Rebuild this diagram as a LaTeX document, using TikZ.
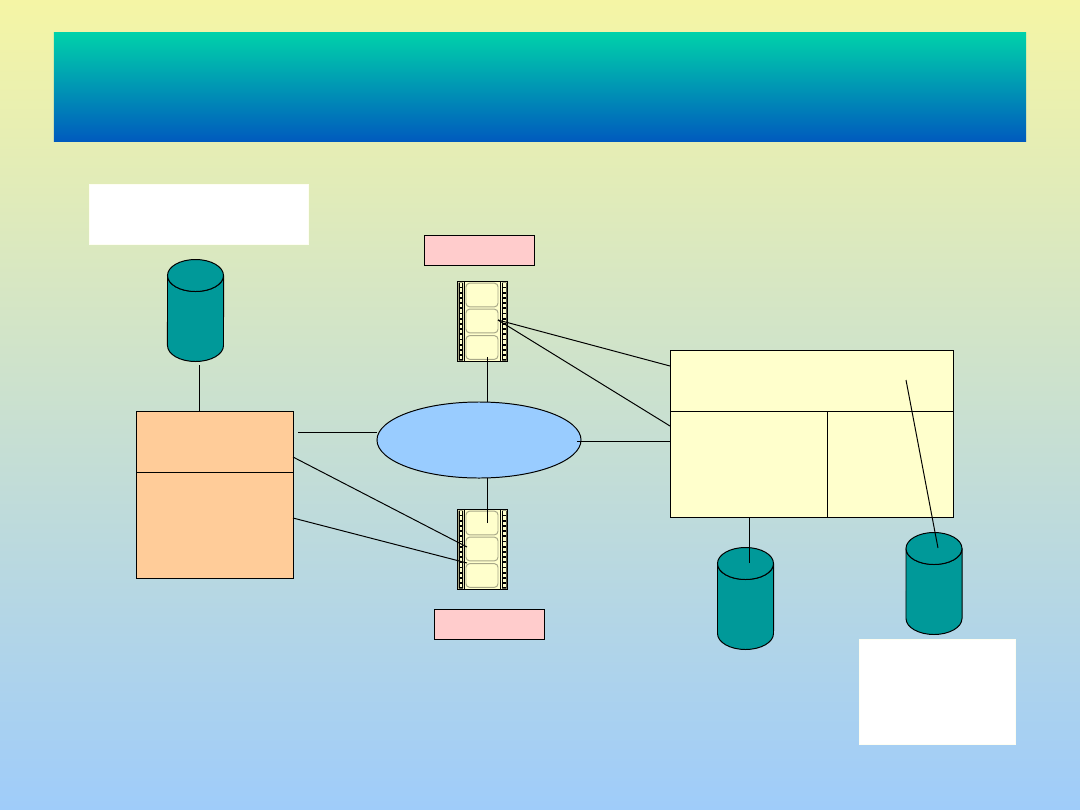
\documentclass[tikz,border=0pt]{standalone}
\usepackage{xcolor}
\usetikzlibrary{shapes.geometric}
\definecolor{bgtop}{HTML}{F5F5A5}
\definecolor{bgbottom}{HTML}{9FCCFA}
\definecolor{titletop}{HTML}{00D2AA}
\definecolor{titlebottom}{HTML}{005ABE}
\definecolor{drumteal}{HTML}{009999}
\definecolor{labelpink}{HTML}{FFCCCC}
\definecolor{panelorange}{HTML}{FFCC99}
\definecolor{panelyellow}{HTML}{FFFFCC}
\definecolor{netblue}{HTML}{99CCFF}
\definecolor{framegrey}{HTML}{A8A888}
\tikzset{
  panel/.style={draw=black,line width=0.7pt,inner sep=0pt,outer sep=0pt},
  blank/.style={draw=white!85!bgtop,fill=white,line width=0.7pt,inner sep=0pt,outer sep=0pt},
  wire/.style={line width=0.7pt},
  drum/.pic={
    \draw[wire,fill=drumteal] (-28,-35) arc[start angle=180,end angle=360,x radius=0.7cm,y radius=0.4cm]
      -- (28,35) arc[start angle=0,end angle=-180,x radius=0.7cm,y radius=0.4cm] -- cycle;
    \draw[wire,fill=drumteal] (0,-35) ellipse[x radius=0.7cm,y radius=0.4cm];
  },
  filmstrip/.pic={
    \draw[line width=0.8pt,fill=panelyellow] (-25,-40) rectangle (25,40);
    \draw[line width=0.7pt] (-18,-40) -- (-18,40) (18,-40) -- (18,40);
    \fill (-24,-39) rectangle (-19.5,39) (19.5,-39) rectangle (24,39);
    \foreach \i in {0,...,14} {
      \fill[panelyellow] (-23,-38.4+5.2*\i) rectangle (-20.5,-34.9+5.2*\i);
      \fill[panelyellow] (20.5,-38.4+5.2*\i) rectangle (23,-34.9+5.2*\i);
    }
    \foreach \h in {-26.5,-0.5,26}
      \draw[framegrey,line width=0.7pt,rounded corners=2.5pt,fill=panelyellow] (-16.5,\h-11.8) rectangle (15.5,\h+11.8);
  }
}
\begin{document}
\begin{tikzpicture}[x=0.025cm,y=-0.025cm]
  % Background
  \useasboundingbox (0,0) rectangle (1080,810);
  \shade[top color=bgtop,bottom color=bgbottom] (0,0) rectangle (1080,810);

  % Title band
  \node[top color=titletop,bottom color=titlebottom,inner sep=0pt,outer sep=0pt,minimum width=24.3cm,minimum height=2.74cm] (titleband) at (540,87) {};

  % Blank labels
  \node[blank,minimum width=5.47cm,minimum height=1.5cm] (noteleft) at (199,214) {};
  \node[blank,minimum width=3.9cm,minimum height=2.62cm] (noteright) at (937.5,692) {};
  \node[panel,fill=labelpink,minimum width=2.725cm,minimum height=0.75cm] (tagtop) at (479.5,250.3) {};
  \node[panel,fill=labelpink,minimum width=2.725cm,minimum height=0.75cm] (tagbottom) at (489.5,624) {};

  % Drums
  \pic at (195.5,310.5) {drum};
  \pic at (745.5,598.5) {drum};
  \pic at (934,583.5) {drum};

  % Film strips
  \pic at (482.5,321.5) {filmstrip};
  \pic at (482.5,549.5) {filmstrip};

  % Left site
  \node[panel,fill=panelorange,minimum width=3.9cm,minimum height=1.52cm] (leftupper) at (215,441.8) {};
  \node[panel,fill=panelorange,minimum width=3.9cm,minimum height=2.65cm] (leftlower) at (215,525) {};

  % Network
  \node[panel,ellipse,fill=netblue,minimum width=5.1cm,minimum height=1.9cm] (network) at (479,440) {};

  % Right site
  \node[panel,fill=panelyellow,minimum width=7.06cm,minimum height=1.52cm] (rightupper) at (811.8,380.8) {};
  \node[panel,fill=panelyellow,minimum width=3.925cm,minimum height=2.65cm] (rightleft) at (749,464) {};
  \node[panel,fill=panelyellow,minimum width=3.15cm,minimum height=2.65cm] (rightright) at (890.3,464) {};

  % Free ends
  \coordinate (drumfoot) at (199,365);
  \coordinate (netleft) at (298,432);
  \coordinate (filmtopin) at (498,320);
  \coordinate (filmtopfoot) at (487,357);
  \coordinate (filmbotin) at (487,523);
  \coordinate (filmbotA) at (467,547);
  \coordinate (filmbotB) at (467,563);
  \coordinate (netright) at (577,441);
  \coordinate (upperA) at (670,366);
  \coordinate (upperB) at (670,426);
  \coordinate (midright) at (670,441);
  \coordinate (leftA) at (293,457);
  \coordinate (leftB) at (293,518);
  \coordinate (drumB) at (749,563);
  \coordinate (drumC) at (938,548);
  \coordinate (rightin) at (906,380);

  % Connectors
  \draw[wire] (drumfoot) -- (drumfoot |- leftupper.north);
  \draw[wire] (netleft) -- (netleft -| network.west);
  \draw[wire] (filmtopfoot) -- (filmtopfoot |- network.north);
  \draw[wire] (filmbotin) -- (filmbotin |- network.south);
  \draw[wire] (filmtopin) -- (upperA);
  \draw[wire] (filmtopin) -- (upperB);
  \draw[wire] (netright) -- (midright);
  \draw[wire] (leftA) -- (filmbotA);
  \draw[wire] (leftB) -- (filmbotB);
  \draw[wire] (drumB) -- (drumB |- rightleft.south);
  \draw[wire] (rightin) -- (drumC);
\end{tikzpicture}
\end{document}
